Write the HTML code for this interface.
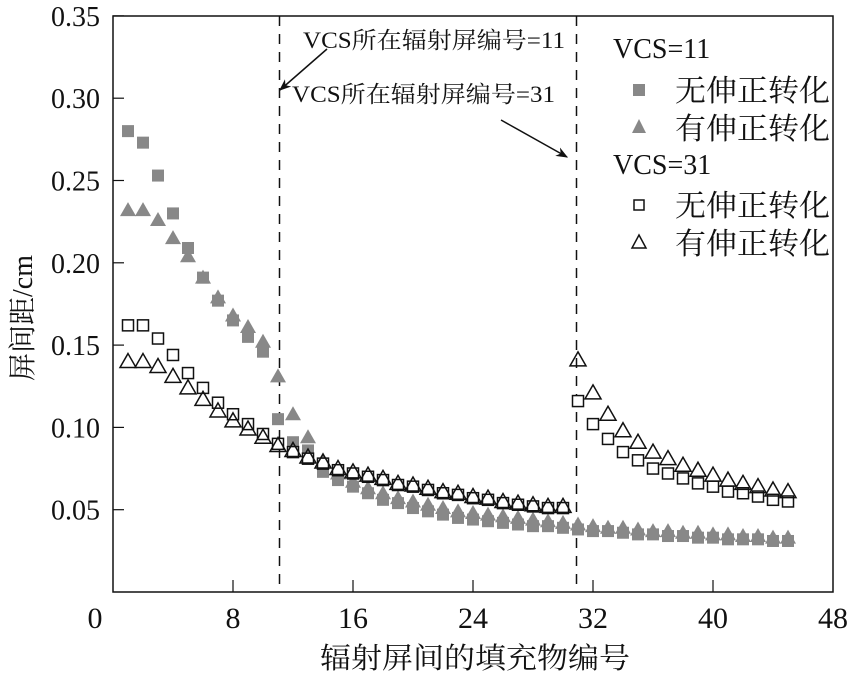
<!DOCTYPE html>
<html><head><meta charset="utf-8">
<style>
body{margin:0;background:#fff;}
svg text{font-family:"Liberation Serif","Noto Serif CJK SC","Noto Sans CJK SC",serif;fill:#111;}
</style></head>
<body>
<svg id="chart" width="849" height="674" viewBox="0 0 849 674" xmlns="http://www.w3.org/2000/svg">
<defs>
<marker id="arr" viewBox="0 0 10 10" refX="9" refY="5" markerWidth="8" markerHeight="8" orient="auto"><path d="M0,1 L10,5 L0,9 L3,5 Z" fill="#111"/></marker>
</defs>
<g id="marks"></g>
<rect x="113" y="16" width="720" height="576" fill="none" stroke="#111" stroke-width="1.5"/>
<g id="axes"></g>
<text x="320" y="668" font-size="29" textLength="310" lengthAdjust="spacingAndGlyphs">辐射屏间的填充物编号</text>
<text transform="translate(32,318) rotate(-90)" font-size="28" text-anchor="middle">屏间距/cm</text>
<text x="303" y="48" font-size="23" textLength="262" lengthAdjust="spacingAndGlyphs">VCS所在辐射屏编号=11</text>
<line x1="327" y1="49" x2="280" y2="90" stroke="#111" stroke-width="1.5" marker-end="url(#arr)"/>
<text x="292" y="102" font-size="23" textLength="263" lengthAdjust="spacingAndGlyphs">VCS所在辐射屏编号=31</text>
<line x1="501" y1="120" x2="567" y2="157" stroke="#111" stroke-width="1.5" marker-end="url(#arr)"/>
<g font-size="28">
<text x="613" y="58">VCS=11</text>
<rect x="633" y="84" width="12" height="12" fill="#888"/>
<text x="675" y="101" font-size="30" textLength="155" lengthAdjust="spacingAndGlyphs">无伸正转化</text>
<path d="M639,119 L646,133 L632,133 Z" fill="#888"/>
<text x="675" y="139" font-size="30" textLength="155" lengthAdjust="spacingAndGlyphs">有伸正转化</text>
<text x="613" y="174">VCS=31</text>
<rect x="634" y="200" width="10" height="10" fill="none" stroke="#111" stroke-width="1.5"/>
<text x="675" y="216" font-size="30" textLength="155" lengthAdjust="spacingAndGlyphs">无伸正转化</text>
<path d="M639,235 L646,248 L632,248 Z" fill="none" stroke="#111" stroke-width="1.5"/>
<text x="675" y="254" font-size="30" textLength="155" lengthAdjust="spacingAndGlyphs">有伸正转化</text>
</g>
</svg>
<script>
const xTicks=[0,8,16,24,32,40,48];
const yTicks=[0.05,0.10,0.15,0.20,0.25,0.30,0.35];
const yTickLabels=["0.05","0.10","0.15","0.20","0.25","0.30","0.35"];
const vcsLines=[11.1,30.9];
const sq11=[0.280,0.273,0.253,0.230,0.209,0.191,0.177,0.165,0.155,0.146,0.105,0.091,0.086,0.073,0.068,0.064,0.060,0.056,0.054,0.051,0.049,0.047,0.045,0.044,0.043,0.042,0.041,0.040,0.040,0.039,0.038,0.037,0.037,0.036,0.035,0.035,0.034,0.034,0.033,0.033,0.032,0.032,0.032,0.031,0.031];
const tri11=[0.232,0.232,0.226,0.215,0.204,0.191,0.179,0.168,0.161,0.152,0.131,0.108,0.094,0.080,0.072,0.067,0.063,0.060,0.057,0.055,0.053,0.051,0.049,0.048,0.047,0.046,0.045,0.044,0.043,0.042,0.041,0.040,0.039,0.039,0.038,0.037,0.037,0.036,0.036,0.035,0.035,0.034,0.034,0.033,0.033];
const sq31=[0.162,0.162,0.154,0.144,0.133,0.124,0.115,0.108,0.102,0.096,0.090,0.085,0.081,0.078,0.074,0.072,0.070,0.068,0.065,0.064,0.062,0.060,0.059,0.057,0.056,0.054,0.053,0.052,0.051,0.051,0.116,0.102,0.093,0.085,0.080,0.075,0.072,0.069,0.066,0.064,0.061,0.060,0.058,0.056,0.055];
const tri31=[0.140,0.140,0.137,0.131,0.124,0.117,0.110,0.104,0.099,0.094,0.089,0.086,0.082,0.079,0.075,0.073,0.071,0.069,0.066,0.065,0.063,0.061,0.060,0.058,0.057,0.055,0.054,0.053,0.052,0.052,0.141,0.121,0.108,0.098,0.091,0.085,0.081,0.077,0.074,0.071,0.068,0.066,0.064,0.062,0.061];
const X=v=>113+v*15;
const Y=v=>592-v*1646;
const NS="http://www.w3.org/2000/svg";
const marks=document.getElementById('marks'),axes=document.getElementById('axes');
function mk(tag,attrs,parent){const e=document.createElementNS(NS,tag);for(const k in attrs)e.setAttribute(k,attrs[k]);parent.appendChild(e);return e;}
xTicks.forEach(t=>{
  if(t>0&&t<48){const l=mk('line',{x1:X(t),x2:X(t),y1:592,y2:580,stroke:'#111','stroke-width':1.2},axes);
  
  }
  const tx=mk('text',{x:t===0?95:X(t),y:628,'font-size':30,'text-anchor':'middle'},axes);tx.textContent=t;
  
  
});
yTicks.forEach((t,i)=>{
  const l=mk('line',{x1:113,x2:124,y1:Y(t),y2:Y(t),stroke:'#111','stroke-width':1.2},axes);
  
  
  const tx=mk('text',{x:100,y:Y(t)+10,'font-size':28,'text-anchor':'end'},axes);tx.textContent=yTickLabels[i];
  
  
});
vcsLines.forEach(v=>{
  const l=mk('line',{x1:X(v),x2:X(v),y1:16,y2:592,stroke:'#111','stroke-width':1.5,'stroke-dasharray':'10,8'},marks);
  
  
});
function sq(arr,fill,stroke,name){arr.forEach((v,i)=>{const s=fill?12:11;
  const r=mk('rect',{x:X(i+1)-s/2,y:Y(v)-s/2,width:s,height:s,fill:fill||'#fff',stroke:stroke||'none','stroke-width':1.5},marks);
  
  });}
function tri(arr,fill,stroke,name){arr.forEach((v,i)=>{const cx=X(i+1),cy=Y(v);
  const p=mk('path',{d:`M${cx},${cy-8} L${cx+8},${cy+6} L${cx-8},${cy+6} Z`,fill:fill||'none',stroke:stroke||'none','stroke-width':1.5},marks);
  
  });}
sq(sq11,'#888',null,'point-vcs11-no-stretch');
tri(tri11,'#888',null,'point-vcs11-stretch');
sq(sq31,null,'#111','point-vcs31-no-stretch');
tri(tri31,null,'#111','point-vcs31-stretch');
</script>
</body></html>
